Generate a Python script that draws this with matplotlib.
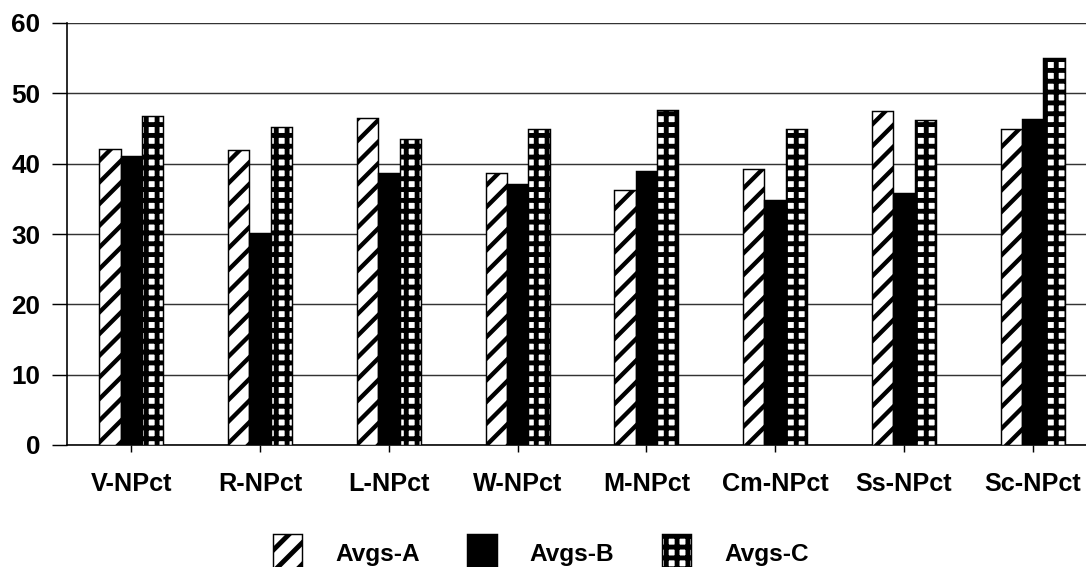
import numpy as np
import matplotlib
matplotlib.use('Agg')
import matplotlib.pyplot as plt

# data
categories = ['V-NPct', 'R-NPct', 'L-NPct', 'W-NPct', 'M-NPct', 'Cm-NPct', 'Ss-NPct', 'Sc-NPct']
avgs_a = [42.1, 41.9, 46.5, 38.7, 36.3, 39.3, 47.5, 44.9]
avgs_b = [41.1, 30.1, 38.7, 37.1, 38.9, 34.8, 35.9, 46.3]
avgs_c = [46.8, 45.2, 43.5, 44.9, 47.7, 44.9, 46.2, 55.0]
series_names = ['Avgs-A', 'Avgs-B', 'Avgs-C']
yticks = [0, 10, 20, 30, 40, 50, 60]

DPI = 130
plt.rcParams['font.family'] = ['Liberation Sans', 'DejaVu Sans']
plt.rcParams['font.weight'] = 'bold'
plt.rcParams['font.size'] = 14

fig = plt.figure(figsize=(1086 / DPI, 567 / DPI), dpi=DPI)
#axes run past the right edge, the reference is cropped there
ax = fig.add_axes([67 / 1086, 1 - 445 / 567, 1030 / 1086, 422 / 567])

x = np.arange(len(categories))
w = 0.166

plt.rcParams['hatch.linewidth'] = 2.4
bars_a = ax.bar(x - w, avgs_a, w, facecolor='white', edgecolor='black',
                hatch='//', linewidth=0.8, label=series_names[0], zorder=3)
plt.rcParams['hatch.linewidth'] = 2.7
bars_b = ax.bar(x, avgs_b, w, facecolor='black', edgecolor='black',
                linewidth=0.8, label=series_names[1], zorder=3)
bars_c = ax.bar(x + w, avgs_c, w, facecolor='white', edgecolor='black',
                hatch='++', linewidth=0.8, label=series_names[2], zorder=3)

ax.set_xlim(-0.5, len(categories) - 0.5)
ax.set_ylim(0, 60)
ax.set_yticks(yticks)
ax.set_xticks(x)
ax.set_xticklabels(categories)

ax.yaxis.grid(True, color='#333333', linewidth=0.8, zorder=0)
ax.set_axisbelow(True)
for s in ['top', 'right']:
    ax.spines[s].set_visible(False)
ax.spines['left'].set_linewidth(0.9)
ax.spines['bottom'].set_linewidth(0.9)

ax.tick_params(axis='y', direction='out', length=8.3, width=0.8, pad=6.5, labelsize=14.5)
ax.tick_params(axis='x', direction='out', length=4, width=0.8, pad=11, labelsize=14)

fig.legend(handles=[bars_a, bars_b, bars_c], labels=series_names,
           loc='center', bbox_to_anchor=(0.498, 0.025), ncol=3, frameon=False,
           handlelength=1.2, handleheight=2.0, handletextpad=1.35,
           columnspacing=1.95, borderpad=0, fontsize=13.5)

fig.savefig('out.png', dpi=DPI)
